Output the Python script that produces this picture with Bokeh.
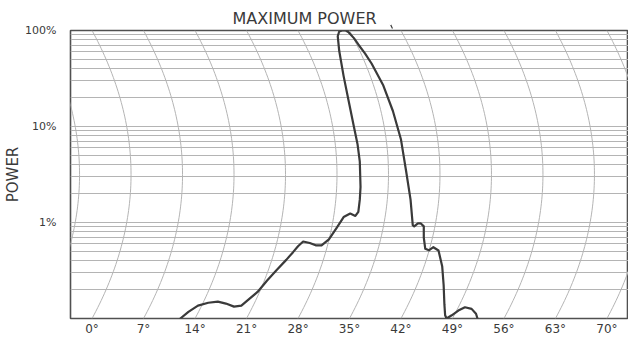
import numpy as np
from bokeh.plotting import figure
from bokeh.models import (Range1d, FixedTicker, CustomJSTickFormatter,
                          Arrow, VeeHead)
from bokeh.embed import file_html
from bokeh.resources import INLINE

# ---- data: relative power (%) vs. elevation angle (deg)
angle_deg = [12.0, 13.1, 14.4, 15.8, 17.1, 18.2, 19.3, 20.3, 21.3, 22.5,
             23.8, 25.1, 26.4, 27.3, 28.0, 28.7, 29.6, 30.4, 31.2, 32.2,
             33.3, 34.2, 35.1, 35.8, 36.2, 36.4, 36.5, 36.4, 36.1, 35.6,
             34.9, 34.2, 33.6, 33.4, 33.6, 34.0, 34.5, 34.9, 35.6, 36.2,
             37.1, 38.0, 39.6, 40.9, 42.0, 42.7, 43.3, 43.6, 43.8, 44.3,
             44.7, 45.1, 45.1, 45.3, 45.8, 46.4, 47.1, 47.6, 47.8, 47.9,
             48.0, 48.2, 48.9, 49.8, 50.7, 51.6, 52.2, 52.4]
power_pct = [0.100, 0.117, 0.136, 0.146, 0.150, 0.143, 0.133, 0.136, 0.158, 0.189,
             0.249, 0.320, 0.408, 0.488, 0.565, 0.634, 0.612, 0.578, 0.578, 0.668,
             0.892, 1.14, 1.24, 1.17, 1.29, 1.73, 2.34, 4.30, 6.48, 9.93,
             18.2, 33.5, 61.5, 87.2, 97.7, 100.0, 100.0, 95.5, 83.3, 71.5,
             57.8, 45.3, 26.7, 14.5, 7.31, 3.42, 1.73, 0.94, 0.912, 0.977,
             0.977, 0.912, 0.695, 0.532, 0.513, 0.553, 0.511, 0.351, 0.222, 0.141,
             0.108, 0.100, 0.108, 0.121, 0.131, 0.126, 0.112, 0.100]

angle_ticks = [0, 7, 14, 21, 28, 35, 42, 49, 56, 63, 70]
power_ticks = [1, 10, 100]
power_decades = [0.1, 1, 10, 100]
power_minor = [0.2, 0.3, 0.4, 0.5, 0.6, 0.7, 0.8, 0.9,
               2, 3, 4, 5, 6, 7, 8, 9,
               20, 30, 40, 50, 60, 70, 80, 90]
arc_angles = [-7] + angle_ticks + [77]

title_text = "MAXIMUM POWER"
y_title = "POWER"

GRID = "#b4b4b4"
INK = "#3a3a3a"
FONT = "DejaVu Sans"

p = figure(width=628, height=338, output_backend="svg", toolbar_location=None,
           x_range=Range1d(-2.93, 72.93), y_range=Range1d(0.1, 100),
           y_axis_type="log",
           min_border_left=70, min_border_right=0,
           min_border_top=30, min_border_bottom=0,
           background_fill_color="white", border_fill_color="white")

# note above the frame
p.title.text = title_text
p.title.align = "left"
p.title.offset = 162
p.title.text_font = FONT
p.title.text_font_size = "16px"
p.title.text_font_style = "normal"
p.title.text_color = INK
p.title.standoff = 5

# curved angle grid: arcs that meet the top and bottom edges at each angle
L = np.linspace(-1.0, 2.0, 81)
bulge = 5.3
shape = 1.0 - ((L - 0.5) / 1.5) ** 2
arc_xs = [list(a + bulge * shape) for a in arc_angles]
arc_ys = [list(10.0 ** L) for _ in arc_angles]
p.multi_line(arc_xs, arc_ys, line_color=GRID, line_width=1)

# horizontal log grid
p.xgrid.visible = False
p.ygrid.ticker = FixedTicker(ticks=power_decades, minor_ticks=power_minor)
p.ygrid.grid_line_color = GRID
p.ygrid.grid_line_width = 1
p.ygrid.minor_grid_line_color = GRID
p.ygrid.minor_grid_line_width = 1

# pattern curve
p.line(angle_deg, power_pct, line_color=INK, line_width=2.2,
       line_join="round", line_cap="round")

# axes
p.xaxis.ticker = FixedTicker(ticks=angle_ticks)
p.xaxis.formatter = CustomJSTickFormatter(code="return tick + '°'")
p.yaxis.ticker = FixedTicker(ticks=power_ticks)
p.yaxis.formatter = CustomJSTickFormatter(code="return tick + '%'")
for ax in (p.xaxis[0], p.yaxis[0]):
    ax.axis_line_color = None
    ax.major_tick_line_color = None
    ax.minor_tick_line_color = None
    ax.major_tick_out = 0
    ax.major_tick_in = 0
    ax.minor_tick_out = 0
    ax.minor_tick_in = 0
    ax.major_label_text_font = FONT
    ax.major_label_text_color = INK
p.xaxis.major_label_text_font_size = "12px"
p.xaxis.major_label_standoff = 3
p.yaxis.major_label_text_font_size = "11px"
p.yaxis.major_label_standoff = 14
p.yaxis.axis_label = y_title
p.yaxis.axis_label_text_font = FONT
p.yaxis.axis_label_text_font_size = "15px"
p.yaxis.axis_label_text_font_style = "normal"
p.yaxis.axis_label_text_color = INK
p.yaxis.axis_label_standoff = 0

p.outline_line_color = "#505050"
p.outline_line_width = 1.6

# pointer from the note to the top edge
p.add_layout(Arrow(end=VeeHead(size=7, line_color=INK, fill_color=INK),
                   start_units="canvas", end_units="canvas",
                   x_start=385, y_start=14, x_end=392, y_end=28,
                   line_color=INK, line_width=1.2))

open("out.html", "w").write(file_html(p, INLINE))
